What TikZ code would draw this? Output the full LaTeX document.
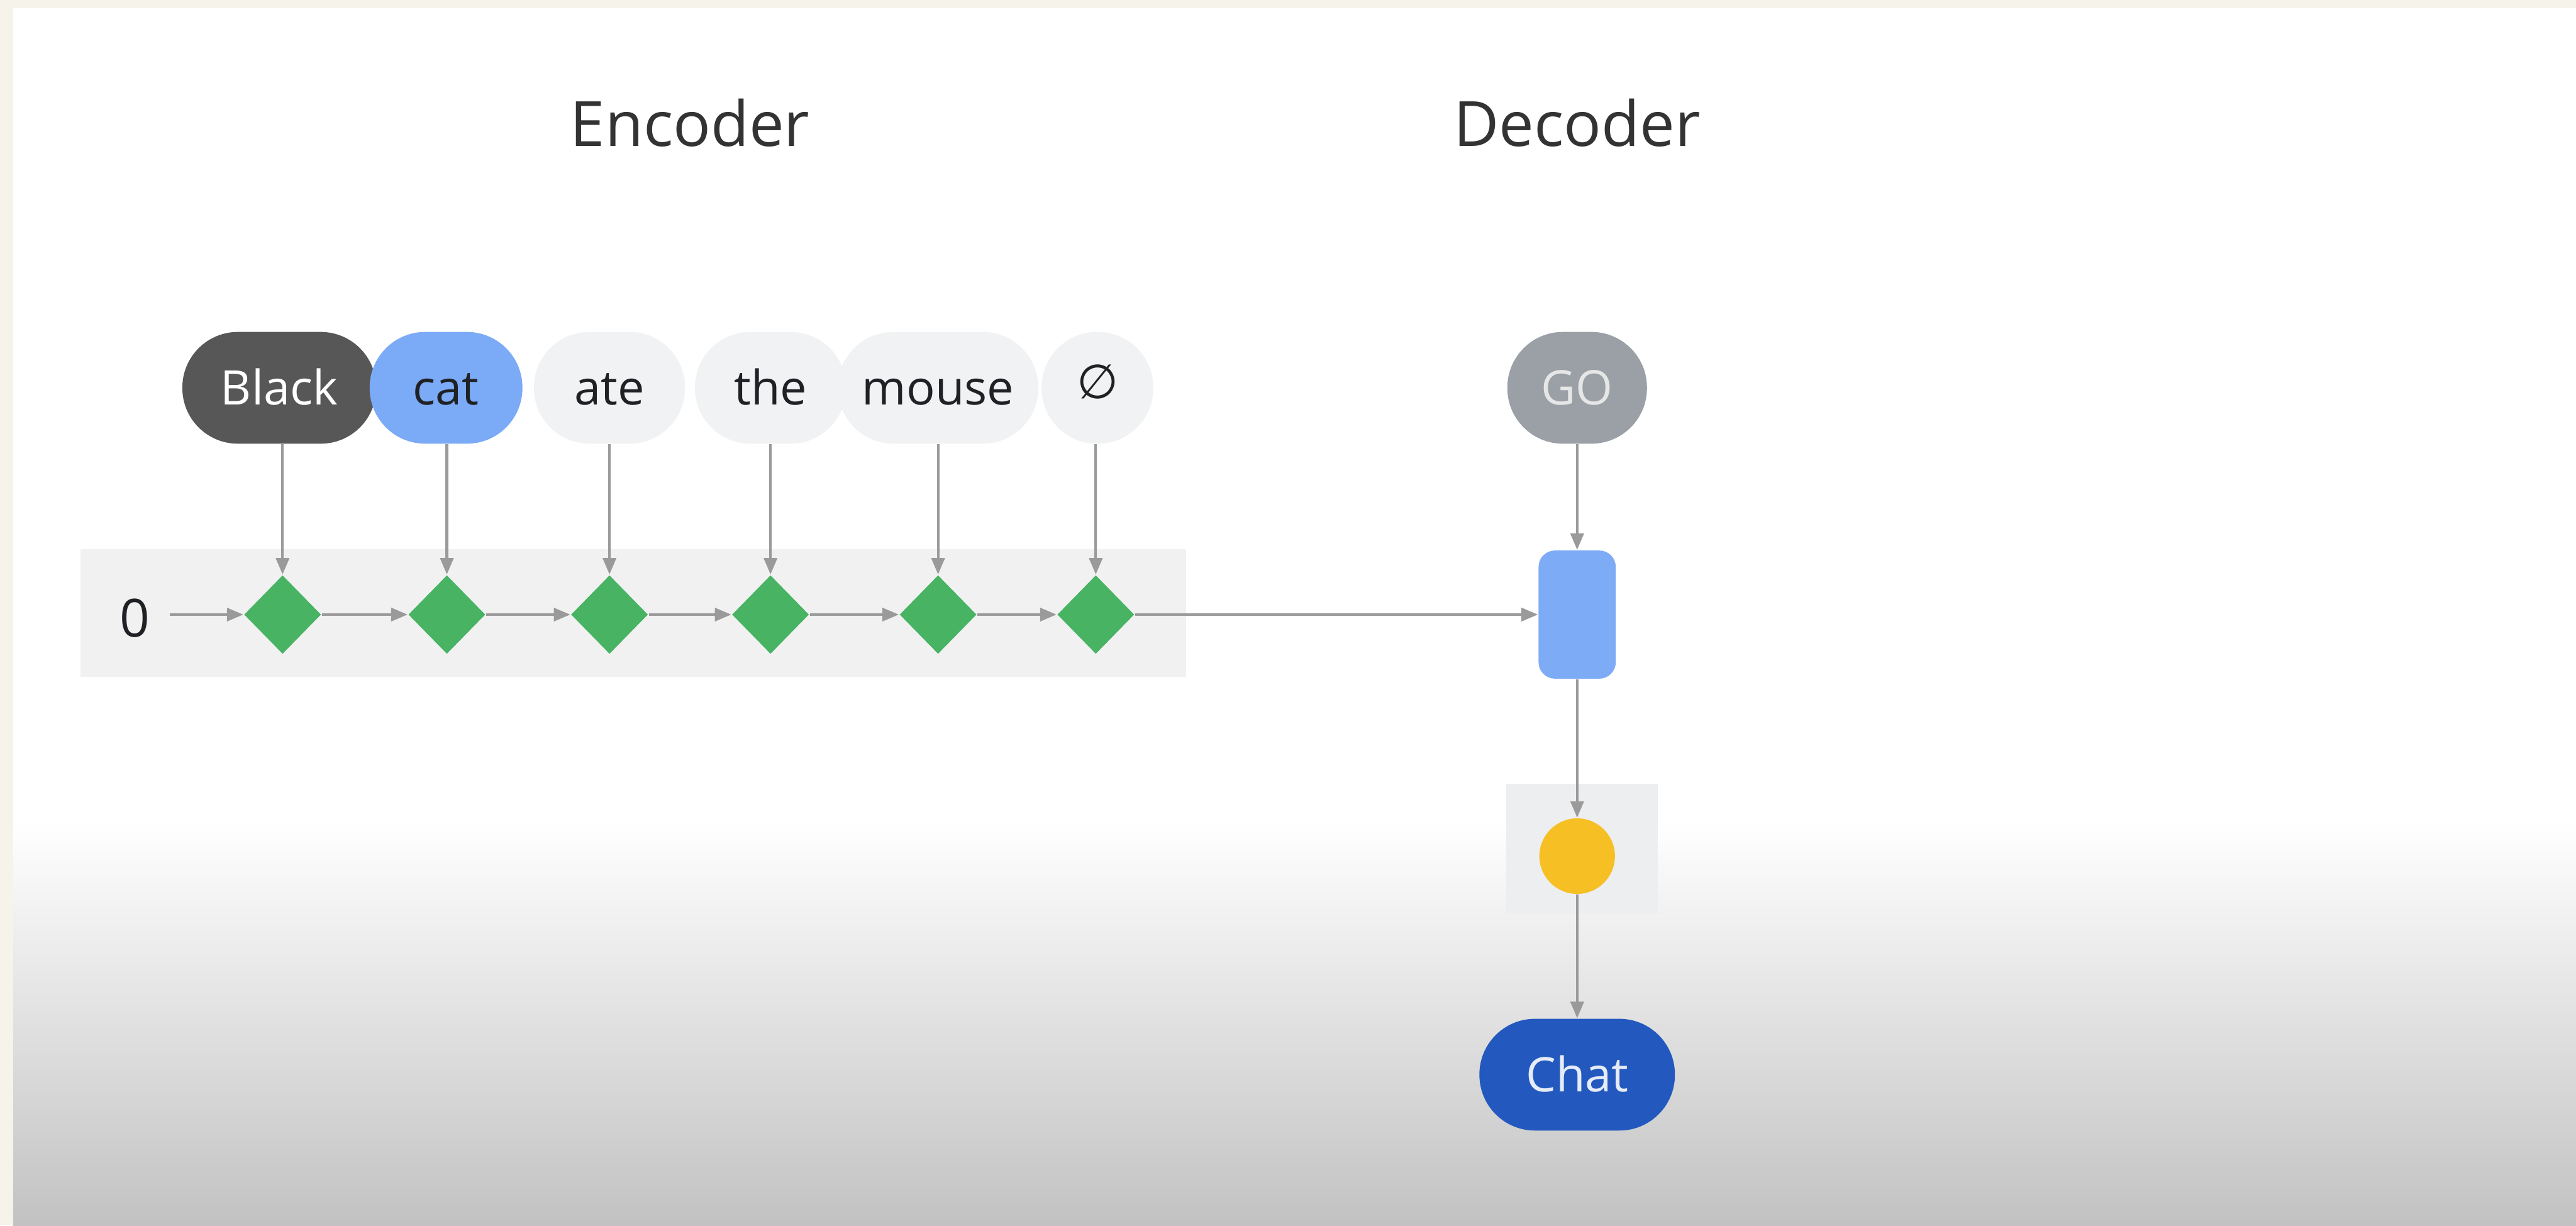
\documentclass[tikz,border=0pt]{standalone}
\usepackage{fontspec}
\setmainfont{Open Sans}
\newfontfamily\symfont{DejaVu Sans}
\usetikzlibrary{shapes.geometric,arrows.meta}
\definecolor{beige}{HTML}{F6F3EA}
\definecolor{bottomgray}{HTML}{C2C2C2}
\definecolor{arrowgray}{HTML}{9A9A9A}
\definecolor{titlegray}{HTML}{333333}
\definecolor{inkgray}{HTML}{202124}
\definecolor{darkpill}{HTML}{575757}
\definecolor{catblue}{HTML}{7BAAF7}
\definecolor{lightpill}{HTML}{F1F2F3}
\definecolor{gopill}{HTML}{9AA0A6}
\definecolor{gotext}{HTML}{E6E6E6}
\definecolor{chatblue}{HTML}{2359BE}
\definecolor{chattext}{HTML}{E6ECF7}
\definecolor{gemgreen}{HTML}{47B363}
\definecolor{bandgray}{HTML}{F1F1F2}
\definecolor{cellblue}{HTML}{7EABF6}
\definecolor{sunyellow}{HTML}{F6C025}
\definecolor{boxgray}{HTML}{EDEEEF}
\begin{document}
\begin{tikzpicture}[x=0.5pt,y=-0.5pt,
  conn/.style={draw=arrowgray,line width=0.8pt,-{Triangle[length=5pt,width=4pt]}},
  pill/.style={rectangle,rounded corners=16.9pt,minimum height=34pt,inner sep=0pt,
    font=\fontsize{14.5}{17}\selectfont,text height=10.35pt,text depth=0pt,text=inkgray},
  gem/.style={diamond,fill=gemgreen,minimum width=23.5pt,minimum height=24pt,inner sep=0pt},
  title/.style={font=\fontsize{19}{22}\selectfont,text=titlegray,anchor=base,inner sep=0pt}
]
% background
\fill[beige] (0,0) rectangle (1568,745.8);
\fill[white] (8,5) rectangle (1568,745.8);
\shade[top color=white,bottom color=bottomgray] (8,500) rectangle (1568,745.8);
\useasboundingbox (0,0) rectangle (1568,745.8);

% titles
\node[title] (enc) at (420,89) {Encoder};
\node[title] (dec) at (960,89) {Decoder};

% band and box behind yellow
\fill[bandgray] (49,334) rectangle (722,412);
\node[rectangle,fill=boxgray,minimum width=46pt,minimum height=39.5pt,inner sep=0pt] (ybox) at (963,516.5) {};

% tokens
\node[pill,fill=darkpill,text=white,minimum width=59pt] (t1) at (170,236) {Black};
\node[pill,fill=catblue,minimum width=46.5pt] (t2) at (271.5,236) {cat};
\node[pill,fill=lightpill,minimum width=46pt] (t3) at (371,236) {ate};
\node[pill,fill=lightpill,minimum width=46pt] (t4) at (469,236) {the};
\node[pill,fill=lightpill,minimum width=61pt] (t5) at (571,236) {mouse};
\node[pill,fill=lightpill,minimum width=34pt] (t6) at (668,236) {\raisebox{2pt}{\symfont ∅}};

% encoder cells
\node[gem] (g1) at (172,374) {};
\node[gem] (g2) at (272,374) {};
\node[gem] (g3) at (371,374) {};
\node[gem] (g4) at (469,374) {};
\node[gem] (g5) at (571,374) {};
\node[gem] (g6) at (667,374) {};

\node[font=\fontsize{16}{19}\selectfont,text=inkgray,text height=11.4pt,text depth=0pt,inner xsep=6pt,inner ysep=0pt] (zero) at (82,376) {0};

% decoder
\node[pill,fill=gopill,text=gotext,minimum width=42.5pt] (go) at (960,236) {GO};
\node[rectangle,rounded corners=5pt,fill=cellblue,minimum width=23.5pt,minimum height=39pt,inner sep=0pt] (cell) at (960,374) {};
\node[circle,fill=sunyellow,minimum size=23pt,inner sep=0pt] (sun) at (960,521) {};
\node[pill,fill=chatblue,text=chattext,minimum width=59.5pt] (chat) at (960,654) {Chat};

% connectors
\foreach \i in {1,...,6}{
  \draw[conn] (g\i.north |- t\i.south) -- (g\i.north);
}
\draw[conn] (zero.east |- g1.west) -- (g1.west);
\foreach \i/\j in {1/2,2/3,3/4,4/5,5/6}{
  \draw[conn] (g\i.east) -- (g\j.west);
}
\draw[conn] (g6.east) -- (cell.west);
\draw[conn] (go.south) -- (cell.north);
\draw[conn] (cell.south) -- (sun.north);
\draw[conn] (sun.south) -- (chat.north);
\end{tikzpicture}
\end{document}
